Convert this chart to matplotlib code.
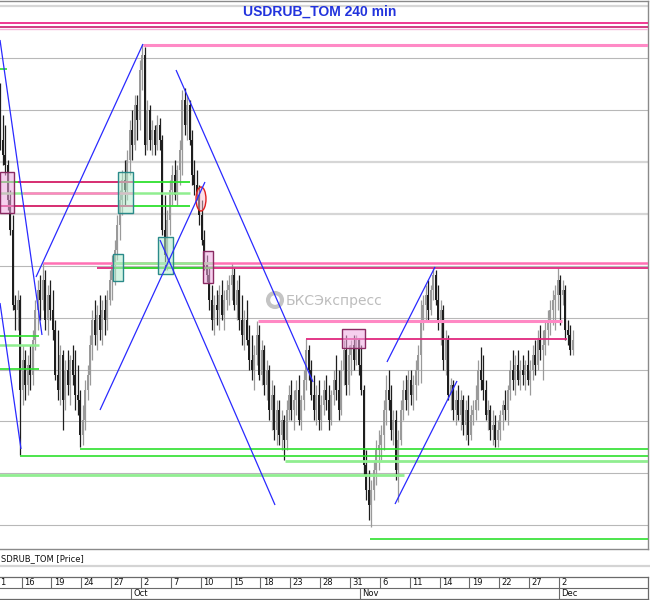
import numpy as np
import matplotlib
matplotlib.use("Agg")
import matplotlib.pyplot as plt
from matplotlib.patches import Rectangle, Ellipse

# ---------------- DATA ----------------
# 240-min bars, time axis in trading days since 16 Sep (4 bars per day)
first_bar_time = -2.125
bar_step = 0.25

opens = [
    65.9, 65.8, 65.725, 65.675, 65.5, 65.35, 64.975, 64.95, 65.0, 64.55,
    64.7, 64.575, 64.675, 64.625, 64.8, 64.95, 65.05, 65.0, 65.1, 64.9,
    65.025, 64.95, 64.85, 64.625, 64.55, 64.725, 64.5, 64.65, 64.575, 64.7,
    64.625, 64.525, 64.5, 64.325, 64.4, 64.55, 64.625, 64.775, 64.9, 64.825,
    64.925, 64.85, 64.95, 64.9, 65.0, 65.1, 65.175, 65.25, 65.375, 65.5,
    65.6, 65.55, 65.7, 65.85, 65.775, 65.975, 65.9, 66.15, 66.225, 65.775,
    65.95, 65.8, 65.85, 65.775, 65.875, 65.8, 65.35, 65.225, 65.4, 65.55,
    65.625, 65.525, 65.65, 65.75, 66.0, 65.875, 65.975, 65.8, 65.625, 65.575,
    65.525, 65.425, 65.3, 65.175, 65.125, 65.0, 64.9, 64.975, 64.95, 65.025,
    64.925, 65.0, 65.05, 65.075, 65.125, 64.975, 65.05, 64.9, 64.825, 64.9,
    64.8, 64.7, 64.65, 64.725, 64.825, 64.625, 64.75, 64.575, 64.65, 64.45,
    64.525, 64.35, 64.45, 64.325, 64.4, 64.3, 64.45, 64.525, 64.45, 64.5,
    64.55, 64.4, 64.5, 64.6, 64.75, 64.65, 64.525, 64.45, 64.525, 64.4,
    64.475, 64.55, 64.5, 64.4, 64.525, 64.6, 64.55, 64.45, 64.65, 64.75,
    64.575, 64.725, 64.775, 64.7, 64.8, 64.675, 64.55, 64.175, 64.05, 63.975,
    64.05, 64.15, 64.25, 64.275, 64.325, 64.45, 64.55, 64.5, 64.35, 64.4,
    64.15, 64.3, 64.45, 64.55, 64.5, 64.6, 64.525, 64.575, 64.65, 64.725,
    64.9, 64.975, 65.025, 64.95, 65.05, 65.125, 65.0, 64.9, 64.95, 64.7,
    64.8, 64.525, 64.575, 64.45, 64.5, 64.425, 64.5, 64.375, 64.45, 64.325,
    64.425, 64.45, 64.5, 64.65, 64.6, 64.55, 64.425, 64.45, 64.35, 64.375,
    64.3, 64.35, 64.425, 64.475, 64.45, 64.55, 64.65, 64.6, 64.675, 64.6,
    64.65, 64.625, 64.675, 64.6, 64.65, 64.725, 64.675, 64.8, 64.75, 64.775,
    64.85, 64.9, 64.95, 65.0, 65.025, 65.1, 65.025, 65.05, 64.85, 64.825,
    64.75,
]
highs = [
    66.085, 65.925, 65.875, 65.7, 65.55, 65.425, 65.025, 65.05, 65.025, 64.775,
    64.75, 64.725, 64.775, 64.85, 65.0, 65.1, 65.125, 65.185, 65.15, 65.075,
    65.1, 65.05, 64.9, 64.85, 64.775, 64.75, 64.7, 64.75, 64.725, 64.775,
    64.75, 64.675, 64.55, 64.475, 64.6, 64.675, 64.825, 64.95, 65.0, 64.975,
    65.025, 65.0, 65.025, 65.05, 65.15, 65.225, 65.3, 65.425, 65.55, 65.65,
    65.7, 65.75, 65.9, 65.95, 66.025, 66.025, 66.2, 66.28, 66.265, 66.0,
    65.975, 65.9, 65.875, 65.925, 65.91, 65.825, 65.525, 65.45, 65.6, 65.675,
    65.7, 65.675, 65.8, 66.05, 66.06, 66.025, 66.0, 65.85, 65.7, 65.65,
    65.575, 65.5, 65.35, 65.225, 65.16, 65.075, 65.025, 65.05, 65.075, 65.1,
    65.05, 65.1, 65.125, 65.185, 65.16, 65.1, 65.125, 65.025, 64.95, 65.0,
    64.875, 64.825, 64.775, 64.895, 64.875, 64.8, 64.775, 64.7, 64.675, 64.6,
    64.575, 64.5, 64.5, 64.45, 64.425, 64.5, 64.575, 64.6, 64.55, 64.6,
    64.625, 64.525, 64.65, 64.805, 64.775, 64.7, 64.625, 64.575, 64.6, 64.525,
    64.6, 64.625, 64.575, 64.55, 64.65, 64.725, 64.65, 64.7, 64.8, 64.825,
    64.775, 64.8, 64.825, 64.825, 64.81, 64.775, 64.575, 64.25, 64.15, 64.1,
    64.2, 64.3, 64.35, 64.375, 64.5, 64.625, 64.65, 64.575, 64.45, 64.45,
    64.35, 64.5, 64.6, 64.625, 64.65, 64.65, 64.625, 64.7, 64.775, 65.0,
    65.025, 65.075, 65.1, 65.075, 65.16, 65.15, 65.075, 65.0, 64.975, 64.85,
    64.825, 64.61, 64.6, 64.55, 64.575, 64.55, 64.525, 64.5, 64.525, 64.475,
    64.5, 64.575, 64.7, 64.765, 64.725, 64.6, 64.5, 64.475, 64.45, 64.425,
    64.4, 64.45, 64.5, 64.55, 64.575, 64.7, 64.75, 64.725, 64.75, 64.7,
    64.725, 64.7, 64.75, 64.7, 64.775, 64.8, 64.85, 64.875, 64.85, 64.9,
    64.95, 65.0, 65.05, 65.075, 65.16, 65.125, 65.1, 65.075, 64.9, 64.875,
    64.85,
]
lows = [
    65.75, 65.675, 65.625, 65.45, 65.325, 64.95, 64.85, 64.85, 64.225, 64.475,
    64.5, 64.525, 64.55, 64.575, 64.75, 64.85, 64.9, 64.95, 64.85, 64.825,
    64.9, 64.8, 64.6, 64.5, 64.475, 64.35, 64.45, 64.525, 64.475, 64.575,
    64.45, 64.425, 64.265, 64.275, 64.35, 64.5, 64.575, 64.7, 64.775, 64.75,
    64.8, 64.775, 64.825, 64.85, 64.975, 65.0, 65.075, 65.2, 65.3, 65.425,
    65.475, 65.5, 65.625, 65.7, 65.75, 65.8, 65.85, 66.05, 65.725, 65.75,
    65.75, 65.725, 65.725, 65.75, 65.75, 65.325, 65.15, 65.15, 65.325, 65.475,
    65.5, 65.475, 65.575, 65.625, 65.825, 65.8, 65.775, 65.575, 65.525, 65.5,
    65.375, 65.275, 65.15, 65.09, 64.95, 64.85, 64.825, 64.875, 64.85, 64.9,
    64.85, 64.95, 64.975, 65.0, 64.95, 64.9, 64.85, 64.775, 64.75, 64.775,
    64.65, 64.6, 64.55, 64.675, 64.6, 64.575, 64.525, 64.5, 64.4, 64.35,
    64.3, 64.275, 64.275, 64.25, 64.2, 64.25, 64.4, 64.4, 64.35, 64.425,
    64.375, 64.35, 64.45, 64.55, 64.6, 64.5, 64.4, 64.375, 64.35, 64.35,
    64.425, 64.45, 64.35, 64.375, 64.475, 64.5, 64.4, 64.425, 64.575, 64.525,
    64.525, 64.625, 64.65, 64.675, 64.625, 64.525, 64.125, 64.0, 63.9, 63.865,
    64.0, 64.075, 64.15, 64.2, 64.25, 64.375, 64.45, 64.3, 64.275, 64.1,
    63.99, 64.275, 64.4, 64.45, 64.425, 64.475, 64.45, 64.5, 64.575, 64.585,
    64.85, 64.9, 64.9, 64.925, 65.0, 64.975, 64.85, 64.775, 64.65, 64.625,
    64.5, 64.45, 64.4, 64.375, 64.4, 64.35, 64.325, 64.3, 64.275, 64.3,
    64.375, 64.4, 64.45, 64.55, 64.5, 64.4, 64.35, 64.3, 64.275, 64.265,
    64.265, 64.3, 64.35, 64.4, 64.375, 64.5, 64.55, 64.525, 64.575, 64.55,
    64.575, 64.55, 64.575, 64.525, 64.6, 64.625, 64.65, 64.7, 64.6, 64.725,
    64.775, 64.825, 64.875, 64.85, 64.95, 64.875, 64.975, 64.8, 64.775, 64.725,
    64.725,
]
closes = [
    65.8, 65.725, 65.675, 65.5, 65.35, 64.975, 64.95, 65.0, 64.55, 64.7,
    64.575, 64.675, 64.625, 64.8, 64.95, 65.05, 65.0, 65.1, 64.9, 65.025,
    64.95, 64.85, 64.625, 64.55, 64.725, 64.5, 64.65, 64.575, 64.7, 64.625,
    64.525, 64.5, 64.325, 64.4, 64.55, 64.625, 64.775, 64.9, 64.825, 64.925,
    64.85, 64.95, 64.9, 65.0, 65.1, 65.175, 65.25, 65.375, 65.5, 65.6,
    65.55, 65.7, 65.85, 65.775, 65.975, 65.9, 66.15, 66.225, 65.775, 65.95,
    65.8, 65.85, 65.775, 65.875, 65.8, 65.35, 65.225, 65.4, 65.55, 65.625,
    65.525, 65.65, 65.75, 66.0, 65.875, 65.975, 65.8, 65.625, 65.575, 65.525,
    65.425, 65.3, 65.175, 65.125, 65.0, 64.9, 64.975, 64.95, 65.025, 64.925,
    65.0, 65.05, 65.075, 65.125, 64.975, 65.05, 64.9, 64.825, 64.9, 64.8,
    64.7, 64.65, 64.725, 64.825, 64.625, 64.75, 64.575, 64.65, 64.45, 64.525,
    64.35, 64.45, 64.325, 64.4, 64.3, 64.45, 64.525, 64.45, 64.5, 64.55,
    64.4, 64.5, 64.6, 64.75, 64.65, 64.525, 64.45, 64.525, 64.4, 64.475,
    64.55, 64.5, 64.4, 64.525, 64.6, 64.55, 64.45, 64.65, 64.75, 64.575,
    64.725, 64.775, 64.7, 64.8, 64.675, 64.55, 64.175, 64.05, 63.975, 64.05,
    64.15, 64.25, 64.275, 64.325, 64.45, 64.55, 64.5, 64.35, 64.4, 64.15,
    64.3, 64.45, 64.55, 64.5, 64.6, 64.525, 64.575, 64.65, 64.725, 64.9,
    64.975, 65.025, 64.95, 65.05, 65.125, 65.0, 64.9, 64.95, 64.7, 64.8,
    64.525, 64.575, 64.45, 64.5, 64.425, 64.5, 64.375, 64.45, 64.325, 64.425,
    64.45, 64.5, 64.65, 64.6, 64.55, 64.425, 64.45, 64.35, 64.375, 64.3,
    64.35, 64.425, 64.475, 64.45, 64.55, 64.65, 64.6, 64.675, 64.6, 64.65,
    64.625, 64.675, 64.6, 64.65, 64.725, 64.675, 64.8, 64.75, 64.775, 64.85,
    64.9, 64.95, 65.0, 65.025, 65.1, 65.025, 65.05, 64.85, 64.825, 64.75,
    64.8,
]

# horizontal price grid
grid_levels = [66.47, 66.21, 65.95, 65.69, 65.43, 65.17, 64.91, 64.65, 64.395, 64.135, 63.875]

# drawn level lines: price, start time, end time
pink_levels = [66.387, 66.364, 66.355, 66.2775, 65.59, 65.535, 65.47, 65.185, 65.16, 64.895, 64.805]
pink_start = [-3, -3, -3, 12.2, -0.36, 0.14, -3, 2.15, 7.59, 23.76, 28.58]
pink_end = [70, 70, 70, 70, 11.2, 11.2, 11.2, 70, 70, 54.3, 54.8]

green_levels = [66.155, 65.59, 65.535, 65.47, 65.185, 65.16, 64.82, 64.775, 64.655,
                64.255, 64.22, 64.195, 64.125, 63.805]
green_start = [-3, -3, -3, -3, 9.19, 9.19, -3, -3, -3, 5.87, -0.16, 26.47, -3, 35.0]
green_end = [-1.47, 16.9, 16.9, 16.9, 19.24, 19.24, 1.75, 1.75, 1.75, 70, 70, 70, 38.43, 70]

# trend lines: (t1, p1, t2, p2)
trend_lines = [
    (-2.17, 66.3, 2.05, 64.825),
    (-2.17, 64.985, -0.06, 64.255),
    (1.45, 65.115, 12.2, 66.28),
    (7.88, 64.45, 18.43, 65.59),
    (15.52, 66.15, 29.29, 64.59),
    (13.91, 65.3, 25.47, 63.975),
    (36.72, 64.69, 41.55, 65.165),
    (37.53, 63.98, 43.76, 64.595),
]

# zones: (t_left, t_right, p_low, p_high)
pink_boxes = [(-2.15, -0.75, 65.435, 65.64), (18.23, 19.24, 65.085, 65.245), (32.2, 34.5, 64.76, 64.855)]
teal_boxes = [(9.69, 11.2, 65.435, 65.64), (9.19, 10.19, 65.095, 65.23), (13.71, 15.22, 65.13, 65.315)]
circle_mark = (18.03, 65.505, 1.0, 0.12)

# date axis (first label is the visible tail of "11")
day_ticks = [-3, 0, 3, 6, 9, 12, 15, 18, 21, 24, 27, 30, 33, 36, 39, 42, 45, 48, 51, 54]
day_labels = ["1", "16", "19", "24", "27", "2", "7", "10", "15", "18", "23", "28", "31",
              "6", "11", "14", "19", "22", "27", "2"]
month_ticks = [11, 34, 54]
month_labels = ["Oct", "Nov", "Dec"]

# ---------------- LAYOUT ----------------
W, H = 650, 600
DAY_PX = 9.95
ORIGIN_PX = 21.6
x_left = -ORIGIN_PX / DAY_PX
x_right = (648 - ORIGIN_PX) / DAY_PX
y_bottom, y_top = 63.755, 66.495

fig = plt.figure(figsize=(W / 100, H / 100), dpi=100)
fig.patch.set_facecolor("white")

ax = fig.add_axes([0, 51 / H, 648 / W, 548 / H])
ax.set_xlim(x_left, x_right)
ax.set_ylim(y_bottom, y_top)
ax.set_xticks([])
ax.set_yticks([])
for s in ["top", "right", "bottom"]:
    ax.spines[s].set_color("#8a8a8a")
    ax.spines[s].set_linewidth(1.0)
ax.spines["left"].set_visible(False)

# grid
for i, g in enumerate(grid_levels):
    light = i in (0, 3, 4)
    ax.axhline(g, color="#d6d6d6" if light else "#b8b8b8", lw=1.6 if light else 0.8, zorder=1)

# candles
t = first_bar_time + bar_step * np.arange(len(opens))
o = np.array(opens); h = np.array(highs); l = np.array(lows); c = np.array(closes)
up = c >= o
cols = np.where(up, "#9a9a9a", "#1e1e1e")
ax.vlines(t, l, h, colors=cols, lw=0.9, zorder=2)
body_lo = np.minimum(o, c)
body_h = np.maximum(np.abs(c - o), 0.006)
ax.bar(t, body_h, bottom=body_lo, width=0.2, color=cols, lw=0, zorder=2)

# level lines
pink_cols = ["#ee2a8a", "#c81a6e", "#f6b6d8", "#ff8ac6", "#e8207a", "#ff86c2", "#e8207a",
             "#ff70b4", "#e0287e", "#ff88c4", "#e0287e"]
pink_lw = [1.3, 1.2, 1.0, 2.2, 1.3, 1.8, 1.3, 1.8, 1.3, 2.2, 1.3]
green_cols = ["#2ee02e", "#2ee02e", "#90ee90", "#2ee02e", "#90ee90", "#2ee02e",
              "#2ee02e", "#90ee90", "#2ee02e", "#2ee02e", "#2ee02e", "#90ee90", "#90ee90", "#2ee02e"]
green_lw = [1.2, 1.3, 1.8, 1.3, 1.8, 1.3, 1.2, 1.8, 1.2, 1.2, 1.2, 2.0, 2.0, 1.2]
green_z = [3, 3, 3, 3, 4, 4, 3, 3, 3, 3, 3, 3, 3, 3]
for lev, a, b, col, lw, z in zip(green_levels, green_start, green_end, green_cols, green_lw, green_z):
    ax.hlines(lev, a, b, colors=col, lw=lw, zorder=z)
for lev, a, b, col, lw in zip(pink_levels, pink_start, pink_end, pink_cols, pink_lw):
    ax.hlines(lev, a, b, colors=col, lw=lw, zorder=3.5)

# zones
for (a, b, p0, p1) in pink_boxes:
    ax.add_patch(Rectangle((a, p0), b - a, p1 - p0, facecolor="#f0a8e0", alpha=0.55,
                           edgecolor="none", zorder=5))
    ax.add_patch(Rectangle((a, p0), b - a, p1 - p0, facecolor="none",
                           edgecolor="#8a2a62", lw=1.0, zorder=5.1))
for (a, b, p0, p1) in teal_boxes:
    ax.add_patch(Rectangle((a, p0), b - a, p1 - p0, facecolor="#b4eccc", alpha=0.55,
                           edgecolor="none", zorder=5))
    ax.add_patch(Rectangle((a, p0), b - a, p1 - p0, facecolor="none",
                           edgecolor="#2a8a8a", lw=1.0, zorder=5.1))
cx, cy, cw, ch = circle_mark
ax.add_patch(Ellipse((cx, cy), cw, ch, facecolor="#f8c0d0", alpha=0.5, edgecolor="none", zorder=5))
ax.add_patch(Ellipse((cx, cy), cw, ch, facecolor="none", edgecolor="#e02020", lw=1.0, zorder=5.1))

# trend lines
for (t1, p1, t2, p2) in trend_lines:
    ax.plot([t1, t2], [p1, p2], color="#2a2aff", lw=0.9, zorder=6, solid_capstyle="butt")

# title and watermark
ax.text(320 / 648, 1 - 11 / 548, "USDRUB_TOM 240 min", transform=ax.transAxes,
        ha="center", va="center", fontsize=10, fontweight="bold",
        family="Liberation Sans", color="#2233dd", zorder=7)
ax.scatter([275 / 648], [1 - 299 / 548], s=100, facecolors="none", edgecolors="#c4c4c4",
           linewidths=3.0, transform=ax.transAxes, zorder=1.5)
ax.text(286 / 648, 1 - 300 / 548, "БКСЭкспресс", transform=ax.transAxes,
        ha="left", va="center", fontsize=10, color="#bdbdbd",
        family="DejaVu Sans", zorder=1.5)

# label strip
fig.text(1 / W, 1 - 559 / H, "SDRUB_TOM [Price]", ha="left", va="center",
         fontsize=6, family="DejaVu Sans", color="#111111")
fig.add_artist(plt.Line2D([0, 1], [1 - 566 / H, 1 - 566 / H], color="#d4d4d4", lw=1.6,
                          transform=fig.transFigure))

# date axis
dax = fig.add_axes([0, 1 / H, 648 / W, 22 / H])
dax.set_xlim(x_left, x_right)
dax.set_ylim(0, 1)
dax.set_xticks([])
dax.set_yticks([])
for s in ["top", "right", "bottom"]:
    dax.spines[s].set_color("#6a6a6a")
    dax.spines[s].set_linewidth(0.9)
dax.spines["left"].set_visible(False)
dax.axhline(0.5, color="#6a6a6a", lw=0.8)
for tk, lb in zip(day_ticks, day_labels):
    dax.vlines(tk, 0.5, 1.0, colors="#6a6a6a", lw=0.8)
    dax.text(max(tk + 0.25, x_left + 0.02), 0.75, lb, ha="left", va="center", fontsize=6,
             family="DejaVu Sans", color="#111111", clip_on=True)
for tk, lb in zip(month_ticks, month_labels):
    dax.vlines(tk, 0.0, 0.5, colors="#6a6a6a", lw=0.8)
    dax.text(tk + 0.25, 0.25, lb, ha="left", va="center", fontsize=6,
             family="DejaVu Sans", color="#111111", clip_on=True)

fig.savefig("out.png", dpi=100)
